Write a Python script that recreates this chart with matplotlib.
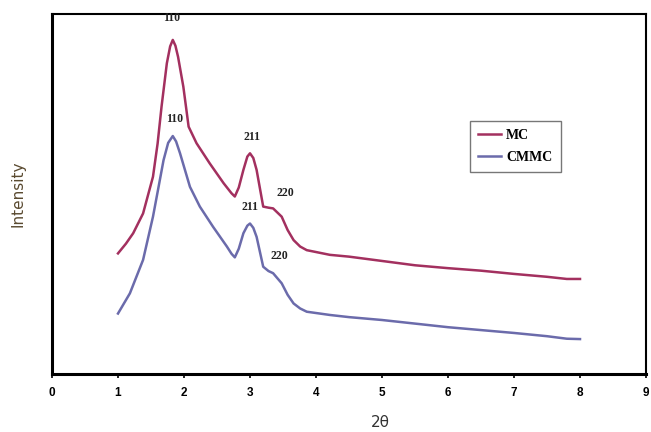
import matplotlib.pyplot as plt

# digitised XRD patterns (arbitrary intensity units)
two_theta_mc = [1.0, 1.12, 1.23, 1.38, 1.53, 1.60, 1.66, 1.74, 1.79, 1.83, 1.87, 1.91,
                1.99, 2.07, 2.19, 2.39, 2.60, 2.72, 2.77, 2.83, 2.90, 2.96, 3.0, 3.05,
                3.10, 3.20, 3.28, 3.35, 3.48, 3.57, 3.66, 3.76, 3.86, 4.21, 4.5,
                5.0, 5.5, 6.0, 6.5, 7.0, 7.5, 7.8, 8.0]
intensity_mc = [33.5, 36.2, 39.1, 44.6, 54.8, 64.0, 74.3, 86.3, 91.0, 92.8, 91.2, 88.1,
                79.8, 68.7, 64.1, 58.5, 53.0, 50.2, 49.3, 51.8, 56.7, 60.4, 61.3, 60.0,
                56.7, 46.5, 46.2, 46.0, 43.7, 40.0, 37.2, 35.4, 34.4, 33.1, 32.6,
                31.4, 30.2, 29.4, 28.7, 27.8, 27.0, 26.4, 26.4]

two_theta_cmmc = [1.0, 1.18, 1.38, 1.53, 1.62, 1.69, 1.76, 1.83, 1.88, 1.94, 2.09,
                  2.24, 2.44, 2.65, 2.72, 2.77, 2.83, 2.90, 2.96, 3.0, 3.05, 3.10,
                  3.20, 3.28, 3.35, 3.48, 3.57, 3.66, 3.76, 3.86, 4.21, 4.5, 5.0,
                  5.5, 6.0, 6.5, 7.0, 7.5, 7.8, 8.0]
intensity_cmmc = [16.8, 22.4, 31.7, 43.7, 52.5, 59.4, 64.2, 66.1, 64.6, 61.3, 52.0,
                  46.5, 40.9, 35.4, 33.4, 32.4, 34.8, 39.1, 41.2, 41.8, 40.6, 38.1,
                  29.8, 28.6, 28.0, 25.2, 22.0, 19.6, 18.2, 17.3, 16.4, 15.8, 15.0,
                  14.0, 13.0, 12.2, 11.4, 10.5, 9.8, 9.7]

# peak labels: (text, x, y)
peaks_mc = [("110", 1.82, 97.3), ("211", 3.03, 64.3), ("220", 3.53, 48.6)]
peaks_cmmc = [("110", 1.86, 69.3), ("211", 3.0, 44.6), ("220", 3.45, 31.0)]

MC_COLOR = "#a3305f"
CMMC_COLOR = "#6b6bab"

fig = plt.figure(figsize=(6.51, 4.32), dpi=100)
ax = fig.add_axes([52 / 651, 58 / 432, 594 / 651, 360 / 432])

ax.plot(two_theta_mc, intensity_mc, color=MC_COLOR, lw=1.8, label="MC")
ax.plot(two_theta_cmmc, intensity_cmmc, color=CMMC_COLOR, lw=1.8, label="CMMC")

for text, x, y in peaks_mc + peaks_cmmc:
    ax.text(x, y, text, ha="center", va="bottom", fontsize=8.5,
            fontweight="bold", family="Liberation Serif", color="#222222")

ax.set_xlim(0, 9)
ax.set_ylim(0, 100)
ax.set_xticks(range(10))
ax.set_yticks([])
ax.tick_params(axis="x", direction="out", length=3, width=1.2, pad=6)
for lbl in ax.get_xticklabels():
    lbl.set_fontweight("bold")
    lbl.set_fontsize(8.5)
    lbl.set_family("Liberation Sans")

for side in ["left", "bottom"]:
    ax.spines[side].set_linewidth(2.2)
for side in ["top", "right"]:
    ax.spines[side].set_linewidth(1.5)

ax.set_xlabel("2θ", fontsize=11, color="#333333")
ax.xaxis.set_label_coords(0.553, -0.115)
ax.set_ylabel("Intensity", fontsize=11, color="#5a4a30")
ax.yaxis.set_label_coords(-0.045, 0.5)

leg = ax.legend(loc="upper left", bbox_to_anchor=(0.692, 0.722), frameon=True,
                fancybox=False, edgecolor="#555555", handlelength=1.6,
                handletextpad=0.4, borderpad=0.6, labelspacing=0.6,
                prop={"family": "Liberation Serif", "weight": "bold", "size": 10})
leg.get_frame().set_linewidth(1.0)

fig.savefig("out.png", dpi=100)
